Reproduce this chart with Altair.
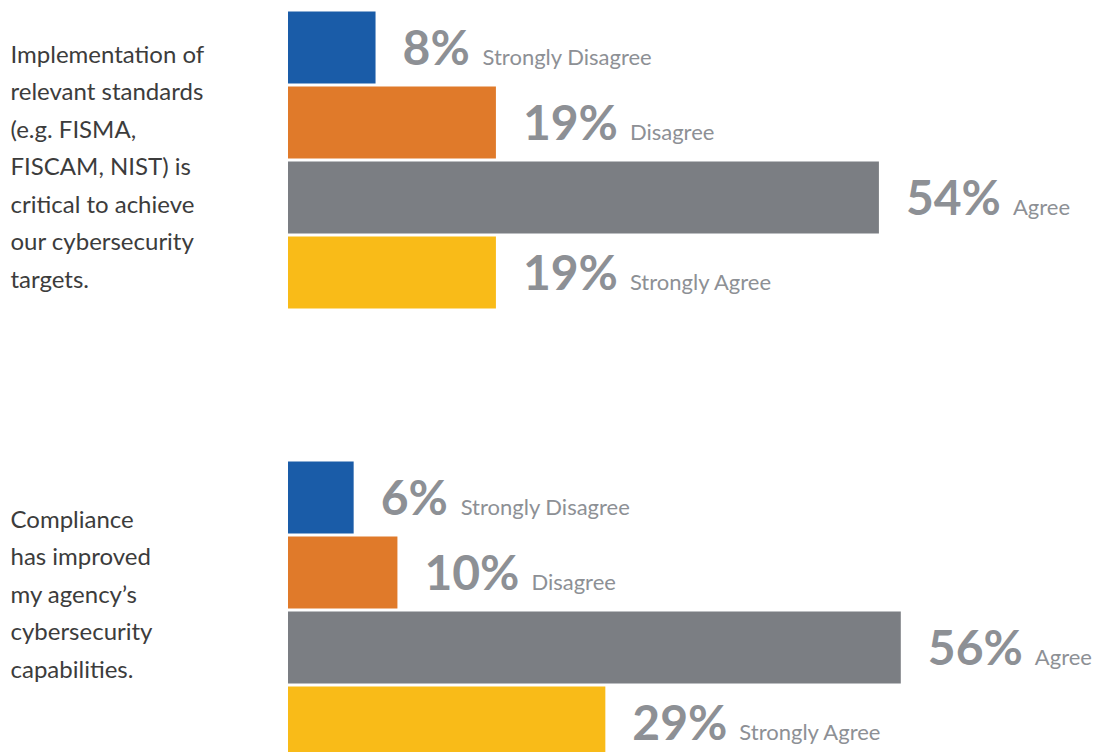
import altair as alt
import pandas as pd

responses = ["Strongly Disagree", "Disagree", "Agree", "Strongly Agree"]
colors = ["#1a5ca8", "#e07a2a", "#7b7e83", "#f9bb18"]

q1_lines = ["Implementation of", "relevant standards", "(e.g. FISMA,",
            "FISCAM, NIST) is", "critical to achieve", "our cybersecurity", "targets."]
q1_values = [8, 19, 54, 19]

q2_lines = ["Compliance", "has improved", "my agency\u2019s", "cybersecurity", "capabilities."]
q2_values = [6, 10, 56, 29]

FONT = "Lato"
TXT = "#8d9095"


def panel(values, title_lines, title_y):
    df = pd.DataFrame({"response": responses, "value": values})
    df["pct"] = [f"{v}%" for v in values]
    df["digits"] = [len(str(v)) for v in values]
    base = alt.Chart(df).encode(
        y=alt.Y("response:N", sort=responses,
                scale=alt.Scale(paddingInner=0.04, paddingOuter=0.02),
                axis=alt.Axis(labels=False, ticks=False, domain=False, grid=False,
                              title=title_lines, titleAngle=0, titleAlign="left",
                              titleBaseline="alphabetic", titleX=-278, titleY=title_y,
                              titleFont=FONT, titleFontSize=24, titleFontWeight="normal",
                              titleColor="#3c3c3c", titleLineHeight=37.5)),
    )
    x = alt.X("value:Q", scale=alt.Scale(domain=[0, 70]), axis=None)
    bars = base.mark_bar(cornerRadius=0).encode(
        x=x,
        color=alt.Color("response:N", scale=alt.Scale(domain=responses, range=colors), legend=None),
    )
    pct = base.mark_text(align="left", baseline="alphabetic", dx=27, dy=17,
                         font=FONT, fontSize=48, fontWeight="bold", color=TXT).encode(
        x=x, text="pct:N")
    lab_style = dict(align="left", baseline="alphabetic", dy=17, font=FONT, fontSize=22, color=TXT)
    lab1 = base.transform_filter("datum.digits == 1").mark_text(dx=107, **lab_style).encode(
        x=x, text="response:N")
    lab2 = base.transform_filter("datum.digits == 2").mark_text(dx=134, **lab_style).encode(
        x=x, text="response:N")
    return alt.layer(bars, pct, lab1, lab2).properties(width=766, height=300)


chart = alt.vconcat(
    panel(q1_values, q1_lines, 52),
    panel(q2_values, q2_lines, 67),
    spacing=150,
).properties(
    padding={"left": 2, "top": 2, "right": 5, "bottom": 0}
).configure_view(stroke=None)

chart.save("out.html", embed_options={"renderer": "svg", "actions": False})
